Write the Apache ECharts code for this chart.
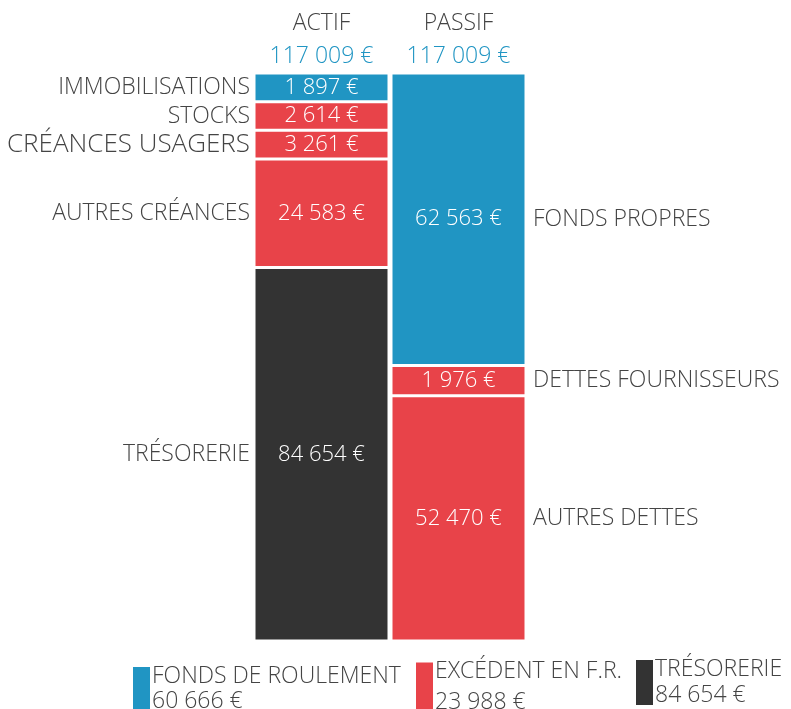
<!DOCTYPE html>
<html>
<head>
<meta charset="utf-8">
<script src="https://cdn.jsdelivr.net/npm/echarts@6/dist/echarts.min.js"></script>
<style>
  html, body { margin: 0; padding: 0; background: #fff; }
  #chart { width: 791px; height: 709px; }
</style>
</head>
<body>
<div id="chart"></div>
<script>
// Bilan fonctionnel : actif / passif en barres empilees

const COLUMNS = ["ACTIF", "PASSIF"];

const ACTIF_NAMES = ["IMMOBILISATIONS", "STOCKS", "CRÉANCES USAGERS", "AUTRES CRÉANCES", "TRÉSORERIE"];
const ACTIF_VALUES = [1897, 2614, 3261, 24583, 84654];
const ACTIF_KINDS = ["fr", "bfr", "bfr", "bfr", "treso"];

const PASSIF_NAMES = ["FONDS PROPRES", "DETTES FOURNISSEURS", "AUTRES DETTES"];
const PASSIF_VALUES = [62563, 1976, 52470];
const PASSIF_KINDS = ["fr", "bfr", "bfr"];

const LEGEND_NAMES = ["FONDS DE ROULEMENT", "EXCÉDENT EN F.R.", "TRÉSORERIE"];

// small items get a minimum height so their label fits
const FLOOR = 6500;

const COLORS = { fr: "#2095c3", bfr: "#e84349", treso: "#333333" };
const TEXT = "#444444";
const FONT = "'Open Sans', 'Noto Sans', sans-serif";

function fmt(v) {
    return String(v).replace(/\B(?=(\d{3})+(?!\d))/g, " ") + " €";
}
const sum = (arr) => arr.reduce((a, b) => a + b, 0);

const actifShown = ACTIF_VALUES.map((v) => Math.max(v, FLOOR));
const passifShown = PASSIF_VALUES.map((v) => Math.max(v, FLOOR));

// fonds de roulement, excedent de financement, tresorerie
const fondsRoulement = PASSIF_VALUES[0] - ACTIF_VALUES[0];
const excedent = sum(PASSIF_VALUES.slice(1)) - sum(ACTIF_VALUES.slice(1, 4));
const tresorerie = ACTIF_VALUES[4];
const LEGEND_VALUES = [fondsRoulement, excedent, tresorerie];
const LEGEND_KINDS = ["fr", "bfr", "treso"];

const totals = [sum(ACTIF_VALUES), sum(PASSIF_VALUES)];

function buildSeries(names, values, shown, kinds, col, side) {
    const out = [];
    names.forEach((name, i) => {
        const data = col === 0 ? [shown[i], "-"] : ["-", shown[i]];
        out.push({
            type: "bar",
            name: "seg" + col + "_" + i,
            stack: "s" + col,
            yAxisIndex: col,
            barWidth: 135,
            barGap: "-100%",
            silent: true,
            data,
            itemStyle: { color: COLORS[kinds[i]], borderColor: "#fff", borderWidth: 1.5 },
            label: {
                show: true,
                position: "inside",
                color: "#fff",
                fontFamily: FONT,
                fontWeight: 300,
                fontSize: 22,
                formatter: () => fmt(values[i]),
            },
        });
        // invisible twin that carries the item name beside the bar
        out.push({
            type: "bar",
            name: "lbl" + col + "_" + i,
            stack: "n" + col,
            yAxisIndex: col,
            barWidth: 135,
            barGap: "-100%",
            silent: true,
            data,
            itemStyle: { color: "transparent" },
            label: {
                show: true,
                position: side,
                distance: side === "left" ? 4 : 7,
                color: TEXT,
                fontFamily: FONT,
                fontWeight: 300,
                fontSize: name === "CRÉANCES USAGERS" ? 26 : 23,
                formatter: () => name,
            },
        });
    });
    return out;
}

const series = [
    ...buildSeries(ACTIF_NAMES, ACTIF_VALUES, actifShown, ACTIF_KINDS, 0, "left"),
    ...buildSeries(PASSIF_NAMES, PASSIF_VALUES, passifShown, PASSIF_KINDS, 1, "right"),
];

LEGEND_NAMES.forEach((name, i) => {
    series.push({
        type: "line",
        name,
        data: [],
        itemStyle: { color: COLORS[LEGEND_KINDS[i]] },
        lineStyle: { color: COLORS[LEGEND_KINDS[i]] },
    });
});

const legendPos = [
    { left: 133, top: 665, h: 44, lh: 25 },
    { left: 416, top: 660, h: 49, lh: 31 },
    { left: 636, top: 658, h: 45, lh: 26 },
];

const legends = LEGEND_NAMES.map((name, i) => ({
    data: [name],
    left: legendPos[i].left,
    top: legendPos[i].top,
    orient: "horizontal",
    icon: "rect",
    itemWidth: 17,
    itemHeight: legendPos[i].h,
    selectedMode: false,
    padding: 0,
    formatter: (n) => "{t|" + n + "}\n{t|" + fmt(LEGEND_VALUES[i]) + "}",
    textStyle: {
        padding: [0, 0, 0, -3],
        rich: {
            t: {
                color: TEXT,
                fontFamily: FONT,
                fontWeight: 300,
                fontSize: 23,
                lineHeight: legendPos[i].lh,
            },
        },
    },
}));

const chart = echarts.init(document.getElementById("chart"), null, { renderer: "canvas" });

chart.setOption({
    animation: false,
    backgroundColor: "#fff",
    grid: { left: 253, right: 264, top: 73, bottom: 68 },
    xAxis: {
        type: "category",
        position: "top",
        data: COLUMNS,
        axisLine: { show: false },
        axisTick: { show: false },
        axisLabel: {
            margin: 0,
            formatter: (v, idx) => "{h|" + v + "}\n{v|" + fmt(totals[idx]) + "}",
            rich: {
                h: { color: TEXT, fontFamily: FONT, fontWeight: 300, fontSize: 23, lineHeight: 33 },
                v: { color: COLORS.fr, fontFamily: FONT, fontWeight: 300, fontSize: 23, lineHeight: 33 },
            },
        },
    },
    yAxis: [
        { type: "value", inverse: true, min: 0, max: sum(actifShown), show: false },
        { type: "value", inverse: true, min: 0, max: sum(passifShown), show: false },
    ],
    legend: legends,
    series,
});
</script>
</body>
</html>
